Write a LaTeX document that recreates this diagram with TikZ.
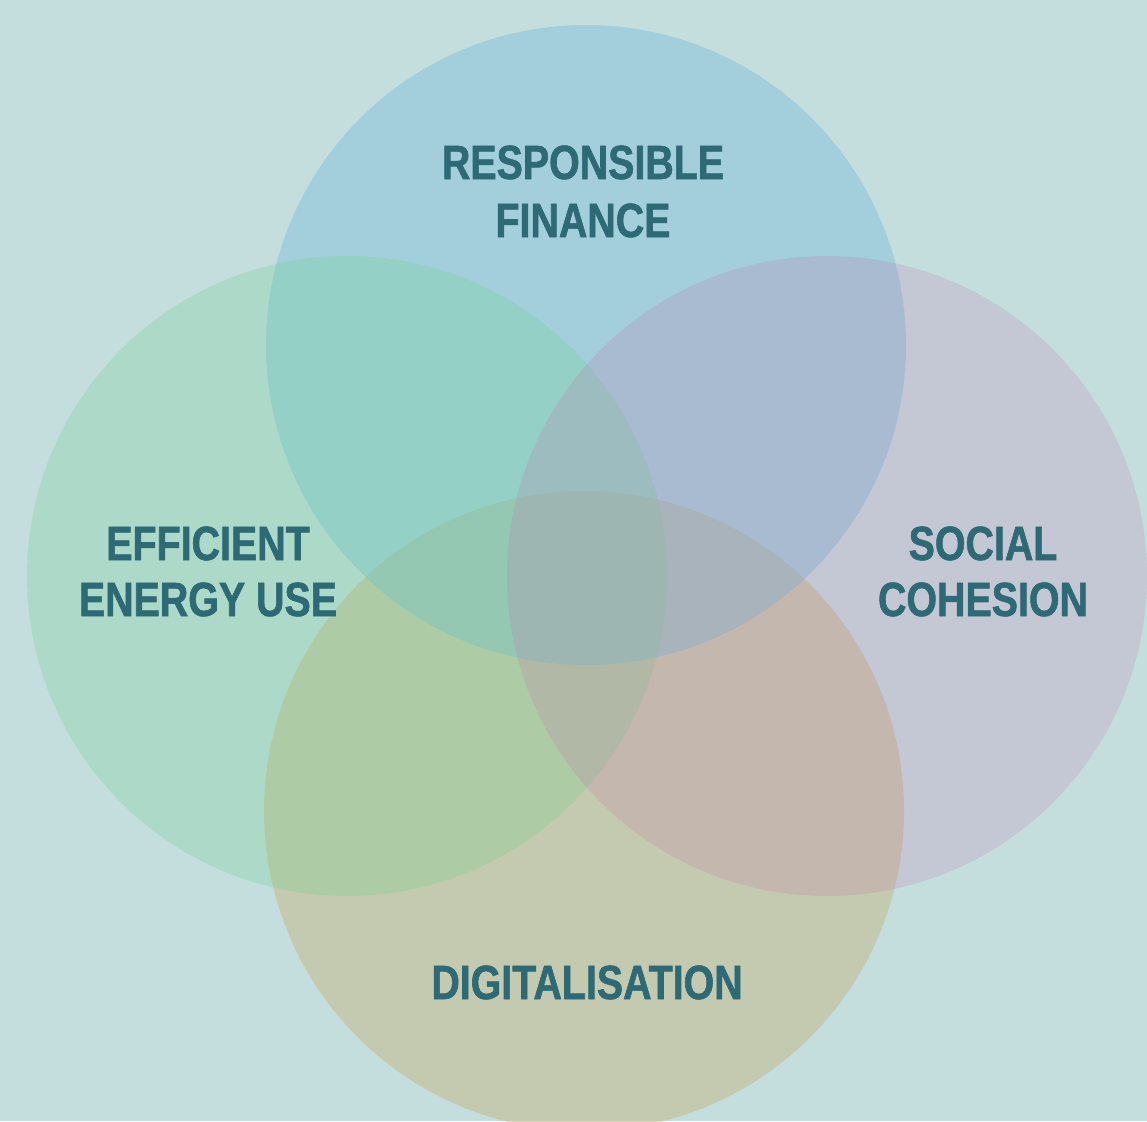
\documentclass[tikz,border=0pt]{standalone}
\usepackage{fontspec}
\newfontfamily\labelfont[FakeStretch=0.82,FakeBold=1.2]{Liberation Sans Bold}
\definecolor{bgcol}{HTML}{C4DEDE}
\definecolor{finblue}{RGB}{119,189,217}
\definecolor{enggreen}{RGB}{114,211,143}
\definecolor{socmauve}{RGB}{196,106,169}
\definecolor{digsand}{RGB}{196,184,130}
\definecolor{labelcol}{HTML}{2D6A75}
\begin{document}
\begin{tikzpicture}[x=1pt,y=-1pt,
  petal/.style={draw=none},
  lbl/.style={anchor=base,inner sep=0pt,text=labelcol,font=\labelfont\fontsize{48}{58}\selectfont}]
  \fill[bgcol] (0,0) rectangle (1147,1121);
  \useasboundingbox (0,0) rectangle (1147,1121);
  \begin{scope}
    \clip (0,0) rectangle (1147,1121);
    % the four translucent discs, lowest first
    \fill[petal,digsand,fill opacity=0.5] (584,811) circle[radius=320];
    \fill[petal,finblue,fill opacity=0.43] (586,345) circle[radius=320];
    \fill[petal,enggreen,fill opacity=0.28] (347,576) circle[radius=320];
    \fill[petal,socmauve,fill opacity=0.19] (827,576) circle[radius=320];
  \end{scope}
  \node[lbl] (fin1) at (583,179) {RESPONSIBLE};
  \node[lbl] (fin2) at (583,237) {FINANCE};
  \node[lbl] (eng1) at (208,560) {EFFICIENT};
  \node[lbl] (eng2) at (208,616) {ENERGY USE};
  \node[lbl] (soc1) at (983,560) {SOCIAL};
  \node[lbl] (soc2) at (983,616) {COHESION};
  \node[lbl] (dig) at (587,999) {DIGITALISATION};
\end{tikzpicture}
\end{document}
